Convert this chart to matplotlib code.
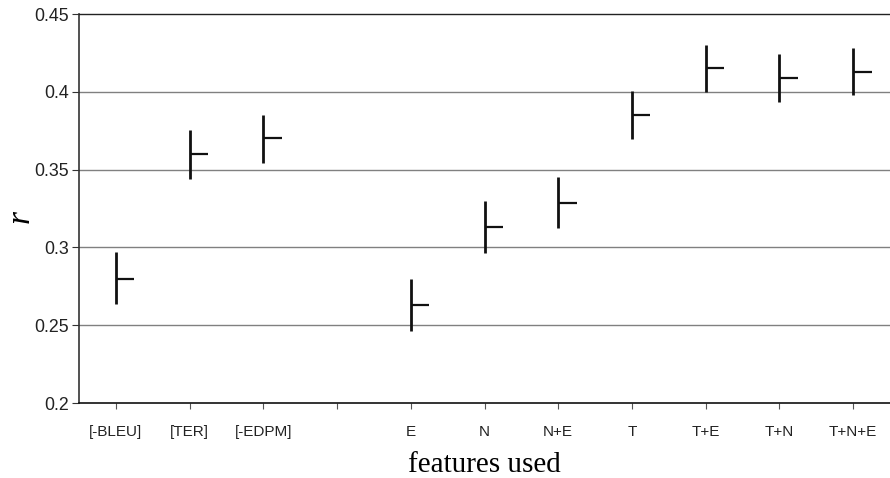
import numpy as np
import matplotlib
matplotlib.use("Agg")
import matplotlib.pyplot as plt

categories = ["[-BLEU]", "[TER]", "[-EDPM]", "", "E", "N", "N+E", "T", "T+E", "T+N", "T+N+E"]
means = [0.280, 0.360, 0.370, np.nan, 0.263, 0.313, 0.3285, 0.385, 0.415, 0.409, 0.413]
lows  = [0.2636, 0.344, 0.354, np.nan, 0.246, 0.2964, 0.3125, 0.3697, 0.3997, 0.3934, 0.398]
highs = [0.297, 0.3755, 0.385, np.nan, 0.280, 0.330, 0.3453, 0.4007, 0.430, 0.4241, 0.4283]
yticks = [0.2, 0.25, 0.3, 0.35, 0.4, 0.45]
ytick_labels = ["0.2", "0.25", "0.3", "0.35", "0.4", "0.45"]

fig = plt.figure(figsize=(8.9, 4.78), dpi=100)
ax = fig.add_axes([0.0888, 0.1569, 0.9112, 0.8138])

x = np.arange(len(categories))
m = np.array(means)
lo = np.array(lows)
hi = np.array(highs)
ok = ~np.isnan(m)

ax.set_ylim(0.2, 0.45)
ax.set_xlim(-0.5, len(categories) - 0.5)

for yv in yticks[1:-1]:
    ax.axhline(yv, color="#808080", lw=1.0, zorder=1)

ax.vlines(x[ok], lo[ok], hi[ok], color="#111111", lw=2.0, zorder=3)
ax.hlines(m[ok], x[ok], x[ok] + 0.25, color="#111111", lw=1.6, zorder=3)

ax.set_xticks(x)
ax.set_xticklabels(categories, fontfamily="Liberation Sans", fontsize=11, color="#222222")
ax.set_yticks(yticks)
ax.set_yticklabels(ytick_labels, fontfamily="Liberation Sans", fontsize=12.8, color="#222222")
ax.tick_params(axis="x", direction="out", length=4, width=0.8, color="#555555", pad=12)
ax.tick_params(axis="y", direction="out", length=5, width=0.8, color="#333333", pad=2)

ax.spines["right"].set_visible(False)
ax.spines["top"].set_color("#222222")
ax.spines["top"].set_linewidth(1.0)
ax.spines["left"].set_color("#333333")
ax.spines["left"].set_linewidth(1.2)
ax.spines["bottom"].set_color("#111111")
ax.spines["bottom"].set_linewidth(1.2)

ax.set_xlabel("features used", fontfamily="Liberation Serif", fontsize=21, labelpad=9)
ax.set_ylabel("r", fontfamily="Liberation Serif", fontstyle="italic", fontsize=24, va="center")
ax.yaxis.set_label_coords(-0.072, 0.48)

fig.savefig("out.png", dpi=100)
